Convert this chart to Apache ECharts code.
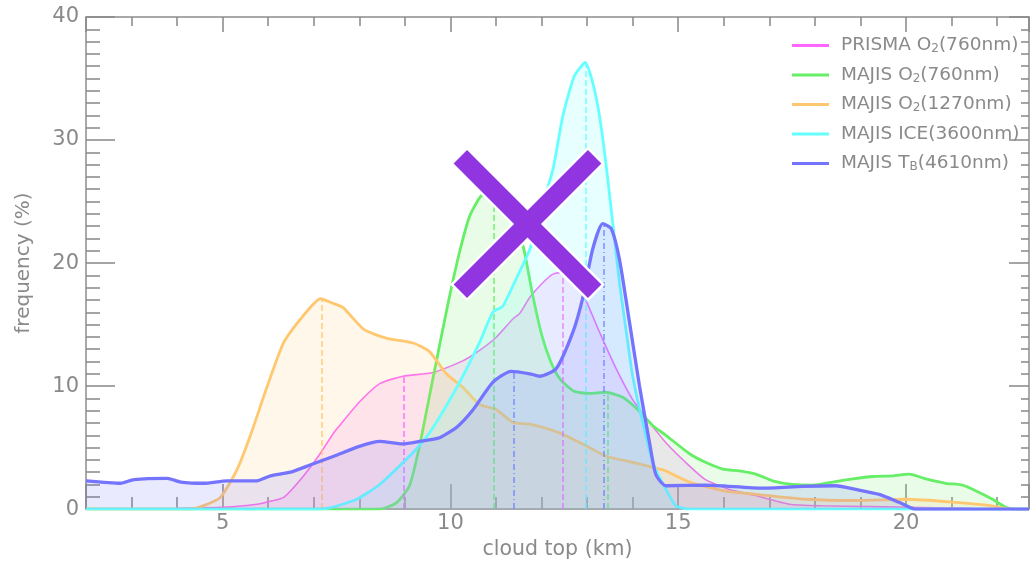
<!DOCTYPE html>
<html>
<head>
<meta charset="utf-8">
<script src="https://cdn.jsdelivr.net/npm/echarts@6/dist/echarts.min.js"></script>
<style>html,body{margin:0;padding:0;background:#fff}#c{width:1030px;height:565px}</style>
</head>
<body>
<div id="c"></div>
<script>
// ---------- data ----------
const seriesNames = ['PRISMA O2(760nm)', 'MAJIS O2(760nm)', 'MAJIS O2(1270nm)', 'MAJIS ICE(3600nm)', 'MAJIS TB(4610nm)'];
const legendText = ['PRISMA O{s|2}(760nm)', 'MAJIS O{s|2}(760nm)', 'MAJIS O{s|2}(1270nm)', 'MAJIS ICE(3600nm)', 'MAJIS T{s|B}(4610nm)'];

const prismaX = [2, 3, 4, 4.5, 5, 5.75, 6.0, 6.34, 6.71, 7.1, 7.44, 7.57, 8.0, 8.45, 8.96, 9.62, 10.27, 10.64, 11.0, 11.37, 11.52, 11.74, 12.0, 12.25, 12.47, 12.7, 12.9, 13.27, 13.64, 14.0, 14.37, 14.73, 15.25, 15.6, 16.12, 16.7, 17.44, 18.17, 19.27, 20.36, 21.45, 22.7];
const prismaY = [0, 0, 0.05, 0.1, 0.15, 0.4, 0.6, 0.95, 2.4, 4.3, 6.2, 6.8, 8.7, 10.2, 10.8, 11.1, 12.05, 12.9, 13.95, 15.45, 15.9, 17.2, 18.3, 19.1, 19.25, 18.8, 17.6, 14.4, 11.4, 8.9, 7.05, 5.4, 3.5, 2.4, 1.6, 1.1, 0.4, 0.27, 0.2, 0.13, 0.05, 0];

const greenX = [2, 8.45, 8.81, 9.1, 9.32, 9.54, 9.76, 9.98, 10.2, 10.42, 10.64, 10.85, 11.0, 11.2, 11.4, 11.6, 11.8, 12.0, 12.2, 12.4, 12.7, 13.05, 13.4, 13.78, 14.08, 14.44, 14.73, 15.25, 15.6, 15.98, 16.34, 16.7, 17.07, 17.51, 17.95, 18.39, 18.83, 19.27, 19.7, 20.07, 20.44, 20.87, 21.24, 21.53, 21.9, 22.19, 22.41, 22.7];
const greenY = [0, 0, 0.5, 1.9, 5.1, 9.2, 13.3, 17.3, 20.9, 23.8, 25.3, 26.0, 26.0, 25.0, 23.2, 21.3, 17.5, 14.2, 12.0, 10.6, 9.6, 9.4, 9.5, 9.1, 8.2, 6.8, 6.0, 4.5, 3.8, 3.25, 3.1, 2.85, 2.3, 2.0, 1.95, 2.2, 2.45, 2.65, 2.7, 2.85, 2.45, 2.1, 1.95, 1.5, 0.8, 0.15, 0, 0];

const orangeX = [2, 4.3, 4.6, 4.95, 5.32, 5.61, 5.98, 6.34, 6.71, 7.15, 7.44, 7.64, 8.1, 8.59, 9.18, 9.54, 9.91, 10.27, 10.64, 11.0, 11.37, 11.74, 12.39, 12.98, 13.42, 14.0, 14.59, 14.73, 15.25, 15.97, 16.7, 17.8, 18.9, 20.0, 21.1, 21.82, 22.34, 22.7];
const orangeY = [0, 0, 0.3, 0.95, 3.25, 6.0, 10.0, 13.55, 15.45, 17.1, 16.7, 16.4, 14.6, 13.9, 13.5, 12.8, 11.0, 9.9, 8.5, 8.1, 7.05, 6.9, 6.2, 5.15, 4.3, 3.8, 3.25, 3.1, 2.2, 1.5, 1.2, 0.8, 0.7, 0.8, 0.55, 0.3, 0, 0];

const iceX = [2, 7.0, 7.35, 7.94, 8.45, 8.81, 9.18, 9.54, 9.91, 10.27, 10.64, 10.93, 11.15, 11.44, 11.74, 12.0, 12.25, 12.47, 12.72, 12.96, 13.12, 13.27, 13.42, 13.57, 13.71, 13.86, 14.0, 14.22, 14.44, 14.73, 14.95, 15.25, 22.7];
const iceY = [0, 0, 0.1, 0.8, 2.0, 3.25, 4.6, 6.2, 8.4, 10.8, 13.55, 16.0, 16.5, 18.7, 21.1, 24.5, 27.6, 32.0, 35.2, 36.3, 34.7, 32.0, 27.9, 23.0, 18.4, 14.4, 10.8, 7.05, 3.8, 1.6, 0.27, 0, 0];

const tbX = [2, 2.76, 3.05, 3.78, 4.08, 4.59, 5.1, 5.75, 6.05, 6.49, 6.93, 7.44, 8.0, 8.45, 8.95, 9.32, 9.76, 10.15, 10.5, 10.93, 11.33, 11.74, 11.96, 12.32, 12.69, 12.9, 13.12, 13.34, 13.53, 13.71, 13.93, 14.15, 14.37, 14.51, 14.73, 15.6, 16.85, 17.73, 18.46, 18.9, 19.41, 19.85, 20.2, 22.7];
const tbY = [2.3, 2.1, 2.4, 2.5, 2.2, 2.1, 2.3, 2.3, 2.7, 3.0, 3.6, 4.3, 5.1, 5.5, 5.3, 5.5, 5.8, 6.7, 8.1, 10.3, 11.2, 11.0, 10.8, 11.4, 14.4, 17.1, 21.1, 23.2, 22.8, 20.3, 15.2, 10.0, 5.4, 2.8, 1.9, 1.95, 1.7, 1.85, 1.9, 1.6, 1.2, 0.55, 0, 0];

// mode (peak) markers drawn as vertical lines
const prismaModeX = [8.97, 12.47], prismaModeY = [10.8, 19.25];
const greenModeX = [10.96, 13.46], greenModeY = [26.0, 9.5];
const orangeModeX = [7.17], orangeModeY = [17.1];
const iceModeX = [12.96], iceModeY = [36.3];
const tbModeX = [11.38, 13.36], tbModeY = [11.2, 23.2];

// ---------- styles ----------
const colors = ['#ff66ff', '#66ee66', '#ffc870', '#66ffff', '#7474ff'];
const widths = [1.6, 2.8, 2.8, 2.8, 3.3];
const modeDash = ['dashed', 'dashed', 'dashed', 'dashed', [6, 3, 1, 3]];
const xs = [prismaX, greenX, orangeX, iceX, tbX];
const ys = [prismaY, greenY, orangeY, iceY, tbY];
const mx = [prismaModeX, greenModeX, orangeModeX, iceModeX, tbModeX];
const my = [prismaModeY, greenModeY, orangeModeY, iceModeY, tbModeY];

const FONT = 'DejaVu Sans';
const GREY = '#8a8a8a';
const AXC = '#8c8c8c';

const series = seriesNames.map((n, i) => ({
  name: n,
  type: 'line',
  showSymbol: false,
  smooth: 0.2,
  z: 2 + i,
  data: xs[i].map((x, k) => [x, ys[i][k]]),
  itemStyle: { color: colors[i] },
  lineStyle: { color: colors[i], width: widths[i] },
  areaStyle: { color: colors[i], opacity: 0.15 },
  emphasis: { disabled: true },
  markLine: {
    silent: true,
    symbol: ['none', 'none'],
    label: { show: false },
    animation: false,
    lineStyle: { color: colors[i], type: modeDash[i], width: 1.5, opacity: 0.9 },
    data: mx[i].map((x, k) => [{ coord: [x, 0] }, { coord: [x, my[i][k]] }])
  }
}));

const xCommon = {
  type: 'value', min: 2, max: 22.7, splitNumber: 4,
  splitLine: { show: false },
  axisLine: { show: true, onZero: false, lineStyle: { color: AXC, width: 1.5 } },
  minorTick: { show: true, splitNumber: 5, length: 12, lineStyle: { color: '#888', width: 1.5 } },
  axisTick: { show: true, inside: true, length: 25, lineStyle: { color: '#888', width: 1.5 } }
};
const yCommon = {
  type: 'value', min: 0, max: 40, interval: 10,
  splitLine: { show: false },
  axisLine: { show: true, onZero: false, lineStyle: { color: AXC, width: 1.5 } },
  minorTick: { show: true, splitNumber: 10, length: 14, lineStyle: { color: '#888', width: 1.5 } },
  axisTick: { show: true, inside: true, length: 29, lineStyle: { color: '#888', width: 1.5 } }
};

const armShape = { x: -95, y: -9.5, width: 190, height: 19 };

const chart = echarts.init(document.getElementById('c'), null, { renderer: 'canvas' });
chart.setOption({
  animation: false,
  backgroundColor: '#fff',
  textStyle: { fontFamily: FONT },
  grid: { left: 86, right: 1, top: 17, bottom: 55, containLabel: false },
  legend: {
    orient: 'vertical', left: 787, top: 31, itemGap: 10.5,
    itemWidth: 37, itemHeight: 3, icon: 'rect',
    data: seriesNames,
    formatter: name => legendText[seriesNames.indexOf(name)],
    textStyle: {
      color: GREY, fontSize: 18.5, fontFamily: FONT, lineHeight: 19, padding: [0, 0, 0, 7],
      rich: { s: { fontSize: 12, lineHeight: 12, verticalAlign: 'bottom', color: GREY, fontFamily: FONT } }
    },
    selectedMode: false
  },
  xAxis: [
    Object.assign({}, xCommon, {
      position: 'bottom',
      name: 'cloud top (km)', nameLocation: 'middle', nameGap: 28,
      nameTextStyle: { color: GREY, fontSize: 20.5, fontFamily: FONT },
      axisLabel: { color: GREY, fontSize: 21, margin: 4, fontFamily: FONT, showMinLabel: false, showMaxLabel: false,
        formatter: v => (Math.abs(v % 5) < 1e-9 ? String(v) : '') }
    }),
    Object.assign({}, xCommon, {
      position: 'top', axisLabel: { show: false },
      axisTick: { show: true, inside: true, length: 15, lineStyle: { color: '#888', width: 1.5 } },
      minorTick: { show: true, splitNumber: 5, length: 9, lineStyle: { color: '#888', width: 1.5 } }
    })
  ],
  yAxis: [
    Object.assign({}, yCommon, {
      position: 'left',
      name: 'frequency (%)', nameLocation: 'middle', nameGap: 52,
      nameTextStyle: { color: GREY, fontSize: 20, fontFamily: FONT },
      axisLabel: { color: GREY, fontSize: 21, margin: 7, fontFamily: FONT }
    }),
    Object.assign({}, yCommon, {
      position: 'right', axisLabel: { show: false },
      axisTick: { show: true, inside: true, length: 20, lineStyle: { color: '#888', width: 1.5 } },
      minorTick: { show: true, splitNumber: 10, length: 8, lineStyle: { color: '#888', width: 1.5 } }
    })
  ],
  series: series,
  graphic: [
    { type: 'group', x: 527.5, y: 224, z: 100, children: [
      { type: 'rect', z: 100, rotation: Math.PI / 4, shape: armShape, style: { fill: '#fff', stroke: '#fff', lineWidth: 5 } },
      { type: 'rect', z: 100, rotation: -Math.PI / 4, shape: armShape, style: { fill: '#fff', stroke: '#fff', lineWidth: 5 } },
      { type: 'rect', z: 101, rotation: Math.PI / 4, shape: armShape, style: { fill: '#9135e0' } },
      { type: 'rect', z: 101, rotation: -Math.PI / 4, shape: armShape, style: { fill: '#9135e0' } }
    ] }
  ]
});
</script>
</body>
</html>
